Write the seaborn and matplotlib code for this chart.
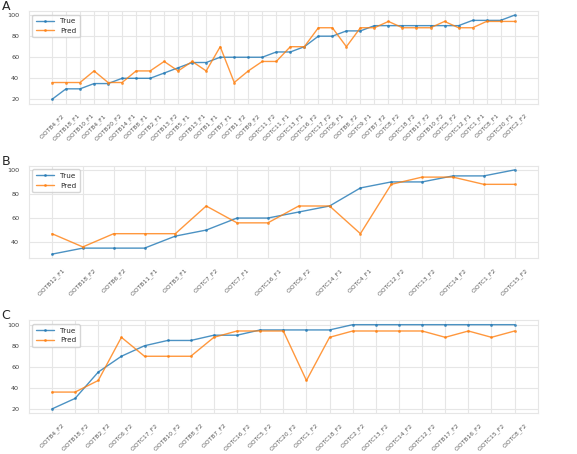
import pandas as pd
import matplotlib as mpl
mpl.use('Agg')
import matplotlib.pyplot as plt
import numpy as np
import seaborn as sns

# panel A
samples_a = ['CIOTB4_F2', 'CIOTB18_F1', 'CIOTB10_F1', 'CIOTB4_F1', 'CIOTB20_F2', 'CIOTB14_F1',
             'CIOTB8_F1', 'CIOTB2_F1', 'CIOTB13_F2', 'CIOTB5_F1', 'CIOTB13_F1', 'CIOTB1_F1',
             'CIOTB7_F1', 'CIOTB1_F2', 'CIOTB9_F2', 'CIOTC11_F2', 'CIOTC11_F1', 'CIOTC13_F1',
             'CIOTC16_F2', 'CIOTC17_F2', 'CIOTC6_F1', 'CIOTB8_F2', 'CIOTC9_F1',
             'CIOTB7_F2', 'CIOTC8_F2', 'CIOTC18_F2', 'CIOTB17_F2', 'CIOTB10_F2', 'CIOTC5_F2',
             'CIOTC12_F1', 'CIOTC1_F1', 'CIOTC8_F1', 'CIOTC20_F1', 'CIOTC2_F2']
true_a = [20, 30, 30, 35, 35, 40, 40, 40, 45, 50, 55, 55, 60, 60, 60, 60, 65,
          65, 70, 80, 80, 85, 85, 90, 90, 90, 90, 90, 90, 90, 95, 95, 95, 100]
pred_a = [36, 36, 36, 47, 36, 36, 47, 47, 56, 47, 56, 47, 70, 36, 47, 56, 56,
          70, 70, 88, 88, 70, 88, 88, 94, 88, 88, 88, 94, 88, 88, 94, 94, 94]

# panel B
samples_b = ['CIOTB12_F1', 'CIOTB18_F2', 'CIOTB6_F2', 'CIOTB11_F1', 'CIOTB3_F1', 'CIOTC7_F2',
             'CIOTC7_F1', 'CIOTC16_F1', 'CIOTC6_F2', 'CIOTC14_F1', 'CIOTC4_F1', 'CIOTC12_F2',
             'CIOTC13_F2', 'CIOTC14_F2', 'CIOTC1_F2', 'CIOTC15_F2']
true_b = [30, 35, 35, 35, 45, 50, 60, 60, 65, 70, 85, 90, 90, 95, 95, 100]
pred_b = [47, 36, 47, 47, 47, 70, 56, 56, 70, 70, 47, 88, 94, 94, 88, 88]

# panel C
samples_c = ['CIOTB4_F2', 'CIOTB18_F2', 'CIOTB2_F2', 'CIOTC6_F2', 'CIOTC17_F2', 'CIOTB10_F2',
             'CIOTB8_F2', 'CIOTB7_F2', 'CIOTC16_F2', 'CIOTC5_F2', 'CIOTC20_F2', 'CIOTC1_F2',
             'CIOTC18_F2', 'CIOTC2_F2', 'CIOTC13_F2', 'CIOTC14_F2', 'CIOTC12_F2', 'CIOTB17_F2',
             'CIOTB16_F2', 'CIOTC15_F2', 'CIOTC8_F2']
true_c = [20, 30, 55, 70, 80, 85, 85, 90, 90, 95, 95, 95, 95, 100, 100, 100, 100, 100, 100, 100, 100]
pred_c = [36, 36, 47, 88, 70, 70, 70, 88, 94, 94, 94, 47, 88, 94, 94, 94, 94, 88, 94, 88, 94]

panels = [('A', samples_a, true_a, pred_a),
          ('B', samples_b, true_b, pred_b),
          ('C', samples_c, true_c, pred_c)]

sns.set_theme(style='whitegrid')
plt.rcParams['font.family'] = ['DejaVu Sans']

fig, axes = plt.subplots(3, 1, figsize=(5.77, 4.54), dpi=100)
fig.subplots_adjust(left=0.05, right=0.932, top=0.976, bottom=0.09, hspace=0.67)

for ax, (letter, samples, true, pred) in zip(axes, panels):
	n = len(samples)
	df = pd.DataFrame({
		'pos': list(range(n)) * 2,
		'value': true + pred,
		'type': ['True'] * n + ['Pred'] * n,
	})
	sns.lineplot(data=df, x='pos', y='value', hue='type', hue_order=['True', 'Pred'],
	             palette=['#1f77b4', '#ff7f0e'], marker='.', markersize=4, markeredgewidth=0,
	             linewidth=1, alpha=0.8, sort=False, ax=ax)
	ax.set_xticks(range(n))
	ax.set_xticklabels(samples, rotation=45, fontsize=4.3, color='0.35')
	ax.tick_params(axis='y', labelsize=4.6, labelcolor='0.25', pad=1)
	ax.tick_params(axis='x', pad=0.5)
	ax.set_xlabel('')
	ax.set_ylabel('')
	for s in ax.spines.values():
		s.set_color('0.9')
		s.set_linewidth(0.8)
	ax.grid(color='0.9', linewidth=0.8)
	ax.legend(loc='upper left', fontsize=5.2, frameon=True, borderpad=0.5, handlelength=2.5)
	pos = ax.get_position()
	fig.text(0.003, pos.y1 + 1 / 454, letter, fontsize=9, va='baseline', ha='left')

fig.savefig('out.png', dpi=100)
